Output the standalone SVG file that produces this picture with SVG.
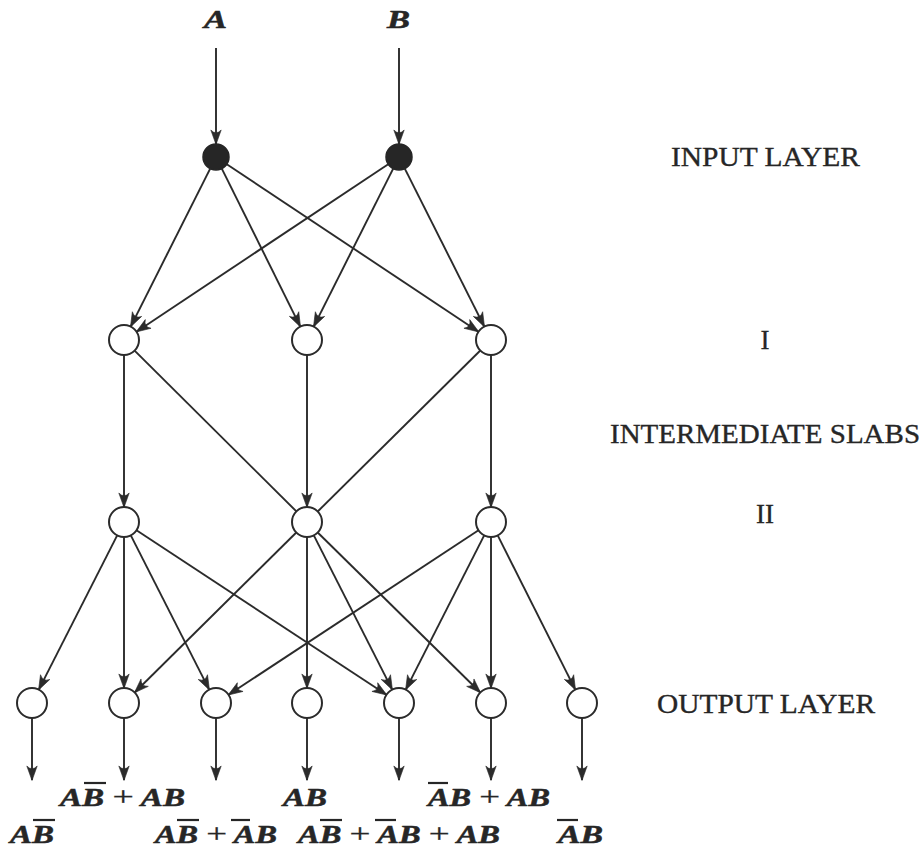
<svg xmlns="http://www.w3.org/2000/svg" width="922" height="849" viewBox="0 0 922 849">
<defs>
<style>
.edge{stroke:#2b2b2b;stroke-width:1.9;fill:none}
.arr{marker-end:url(#ah)}
.node{fill:#ffffff;stroke:#2b2b2b;stroke-width:2}
.inp{fill:#262626;stroke:#262626;stroke-width:1.5}
.lay{font-family:"Liberation Serif","Times New Roman",serif;font-size:27px;fill:#262626;stroke:#262626;stroke-width:0.35}
.math{font-family:"Liberation Serif","Times New Roman",serif;font-size:24.5px;font-weight:bold;font-style:italic;fill:#262626;stroke:#262626;stroke-width:0.5}
.pl{font-style:normal;font-weight:normal;font-size:28px;stroke-width:0.3}
.bar{stroke:#262626;stroke-width:2.2}
</style>
<marker id="ah" viewBox="-16 -7 18 14" refX="0" refY="0" markerWidth="18" markerHeight="14" markerUnits="userSpaceOnUse" orient="auto">
<path d="M0.5,0 L-14,-5.2 Q-8.5,0 -14,5.2 Z" fill="#2b2b2b" stroke="#2b2b2b" stroke-width="0.6" stroke-linejoin="round"/>
</marker>
</defs>
<rect width="922" height="849" fill="#ffffff"/>

<g id="connectors">
<line class="edge arr" x1="216" y1="48" x2="216" y2="144"/>
<line class="edge arr" x1="399" y1="48" x2="399" y2="144"/>
<line class="edge arr" x1="210.2" y1="168.6" x2="130.7" y2="326.6"/>
<line class="edge arr" x1="221.8" y1="168.6" x2="300.3" y2="326.6"/>
<line class="edge arr" x1="226.8" y1="164.2" x2="478.5" y2="331.7"/>
<line class="edge arr" x1="388.2" y1="164.2" x2="136.5" y2="331.7"/>
<line class="edge arr" x1="393.2" y1="168.6" x2="313.7" y2="326.6"/>
<line class="edge arr" x1="404.8" y1="168.6" x2="484.3" y2="326.6"/>
<line class="edge arr" x1="124" y1="355" x2="124" y2="507"/>
<line class="edge" x1="134.6" y1="350.6" x2="296.4" y2="511.4"/>
<line class="edge arr" x1="307" y1="355" x2="307" y2="507"/>
<line class="edge" x1="480.3" y1="350.5" x2="317.7" y2="511.5"/>
<line class="edge arr" x1="491" y1="355" x2="491" y2="507"/>
<line class="edge arr" x1="117.2" y1="535.4" x2="38.8" y2="689.6"/>
<line class="edge arr" x1="124" y1="537" x2="124" y2="688"/>
<line class="edge arr" x1="130.8" y1="535.4" x2="209.2" y2="689.6"/>
<line class="edge arr" x1="136.5" y1="530.2" x2="386.5" y2="694.8"/>
<line class="edge arr" x1="296.3" y1="532.5" x2="134.7" y2="692.5"/>
<line class="edge arr" x1="307" y1="537" x2="307" y2="688"/>
<line class="edge arr" x1="313.8" y1="535.4" x2="392.2" y2="689.6"/>
<line class="edge arr" x1="317.7" y1="532.5" x2="480.3" y2="692.5"/>
<line class="edge arr" x1="478.5" y1="530.2" x2="228.5" y2="694.8"/>
<line class="edge arr" x1="484.2" y1="535.4" x2="405.8" y2="689.6"/>
<line class="edge arr" x1="491" y1="537" x2="491" y2="688"/>
<line class="edge arr" x1="497.7" y1="535.4" x2="575.3" y2="689.6"/>
<line class="edge arr" x1="32" y1="718" x2="32" y2="780"/>
<line class="edge arr" x1="124" y1="718" x2="124" y2="780"/>
<line class="edge arr" x1="216" y1="718" x2="216" y2="780"/>
<line class="edge arr" x1="307" y1="718" x2="307" y2="780"/>
<line class="edge arr" x1="399" y1="718" x2="399" y2="780"/>
<line class="edge arr" x1="491" y1="718" x2="491" y2="780"/>
<line class="edge arr" x1="582" y1="718" x2="582" y2="780"/>
</g>

<g id="inA"><circle class="inp" cx="216" cy="157" r="13"/></g>
<g id="inB"><circle class="inp" cx="399" cy="157" r="13"/></g>
<g id="h1a"><circle class="node" cx="124" cy="340" r="15"/></g>
<g id="h1b"><circle class="node" cx="307" cy="340" r="15"/></g>
<g id="h1c"><circle class="node" cx="491" cy="340" r="15"/></g>
<g id="h2a"><circle class="node" cx="124" cy="522" r="15"/></g>
<g id="h2b"><circle class="node" cx="307" cy="522" r="15"/></g>
<g id="h2c"><circle class="node" cx="491" cy="522" r="15"/></g>
<g id="o1"><circle class="node" cx="32" cy="703" r="15"/></g>
<g id="o2"><circle class="node" cx="124" cy="703" r="15"/></g>
<g id="o3"><circle class="node" cx="216" cy="703" r="15"/></g>
<g id="o4"><circle class="node" cx="307" cy="703" r="15"/></g>
<g id="o5"><circle class="node" cx="399" cy="703" r="15"/></g>
<g id="o6"><circle class="node" cx="491" cy="703" r="15"/></g>
<g id="o7"><circle class="node" cx="582" cy="703" r="15"/></g>

<g id="input-labels">
<text class="math" x="204" y="28" textLength="23" lengthAdjust="spacingAndGlyphs">A</text>
<text class="math" x="387" y="28" textLength="23" lengthAdjust="spacingAndGlyphs">B</text>
</g>

<g id="output-labels">
<text class="math" x="60" y="806" textLength="125" lengthAdjust="spacingAndGlyphs">AB <tspan class="pl">+</tspan> AB</text>
<line class="bar" x1="84" y1="783" x2="106" y2="783"/>
<text class="math" x="283" y="806" textLength="44" lengthAdjust="spacingAndGlyphs">AB</text>
<text class="math" x="428" y="806" textLength="122" lengthAdjust="spacingAndGlyphs">AB <tspan class="pl">+</tspan> AB</text>
<line class="bar" x1="428" y1="783" x2="448" y2="783"/>
<text class="math" x="10" y="843" textLength="44" lengthAdjust="spacingAndGlyphs">AB</text>
<line class="bar" x1="33" y1="820" x2="55" y2="820"/>
<text class="math" x="155" y="843" textLength="122" lengthAdjust="spacingAndGlyphs">AB <tspan class="pl">+</tspan> AB</text>
<line class="bar" x1="177" y1="820" x2="199" y2="820"/>
<line class="bar" x1="231" y1="820" x2="250" y2="820"/>
<text class="math" x="298" y="843" textLength="202" lengthAdjust="spacingAndGlyphs">AB <tspan class="pl">+</tspan> AB <tspan class="pl">+</tspan> AB</text>
<line class="bar" x1="320" y1="820" x2="342" y2="820"/>
<line class="bar" x1="375" y1="820" x2="396" y2="820"/>
<text class="math" x="558" y="843" textLength="45" lengthAdjust="spacingAndGlyphs">AB</text>
<line class="bar" x1="557" y1="820" x2="578" y2="820"/>
</g>

<g id="layer-labels">
<text class="lay" x="671" y="166" textLength="189" lengthAdjust="spacingAndGlyphs">INPUT LAYER</text>
<text class="lay" x="765" y="349" text-anchor="middle">I</text>
<text class="lay" x="610" y="443" textLength="310" lengthAdjust="spacingAndGlyphs">INTERMEDIATE SLABS</text>
<text class="lay" x="765" y="523" text-anchor="middle">II</text>
<text class="lay" x="657" y="713" textLength="218" lengthAdjust="spacingAndGlyphs">OUTPUT LAYER</text>
</g>
</svg>
